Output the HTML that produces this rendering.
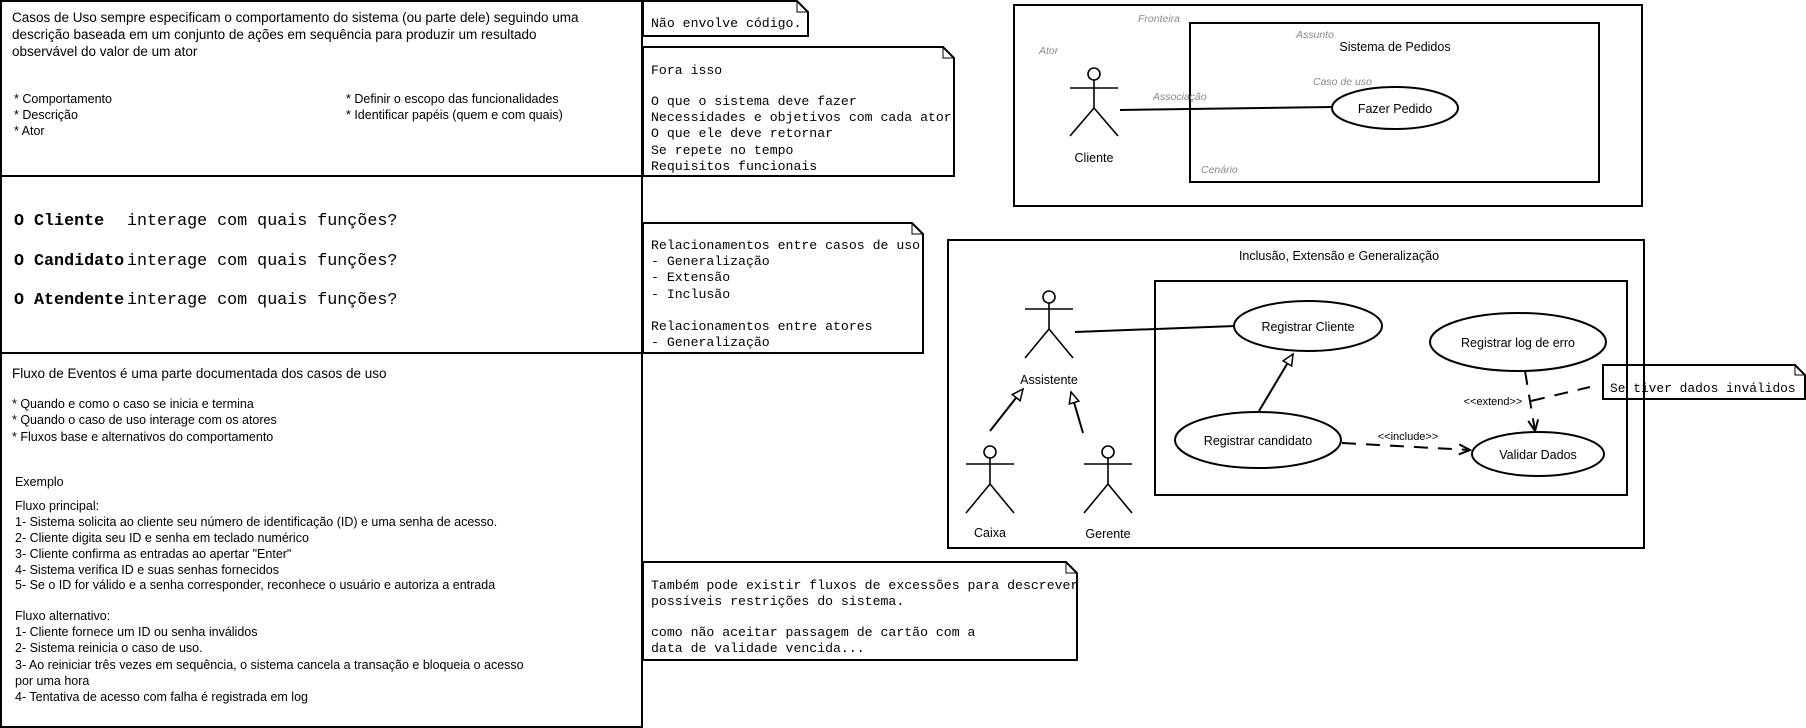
<!DOCTYPE html>
<html><head><meta charset="utf-8"><style>
html,body{margin:0;padding:0;background:#fff;}
svg{display:block;}
.s{font-family:"Liberation Sans",sans-serif;font-size:13.5px;fill:#000;}
.m{font-family:"Liberation Mono",monospace;font-size:13.2px;fill:#000;}
.b{font-family:"Liberation Mono",monospace;font-size:16.7px;fill:#000;}
.g{font-family:"Liberation Sans",sans-serif;font-size:10.5px;fill:#888;font-style:italic;}
</style></head><body>
<svg width="1806" height="728" viewBox="0 0 1806 728" xmlns="http://www.w3.org/2000/svg">
<defs>
<marker id="tri" markerWidth="14" markerHeight="14" refX="12" refY="6" orient="auto" markerUnits="userSpaceOnUse"><path d="M1,1 L12,6 L1,11 Z" fill="#fff" stroke="#000" stroke-width="1.5"/></marker>
<marker id="open" markerWidth="14" markerHeight="14" refX="12" refY="6" orient="auto" markerUnits="userSpaceOnUse"><path d="M1,1 L12,6 L1,11" fill="none" stroke="#000" stroke-width="2"/></marker>
</defs>
<g fill="none" stroke="#000" stroke-width="2">
<rect x="1" y="1" width="641" height="726"/>
<line x1="0" y1="176" x2="642" y2="176"/>
<line x1="0" y1="353" x2="642" y2="353"/>
<path d="M643,1 H797 L808,12 V36 H643 Z"/><path d="M797,1 V12 H808" stroke-width="1"/>
<path d="M643,47 H943 L954,58 V176 H643 Z"/><path d="M943,47 V58 H954" stroke-width="1"/>
<path d="M643,223 H912 L923,234 V353 H643 Z"/><path d="M912,223 V234 H923" stroke-width="1"/>
<path d="M643,562 H1066 L1077,573 V660 H643 Z"/><path d="M1066,562 V573 H1077" stroke-width="1"/>
<path d="M1603,365 H1795 L1805,375 V399 H1603 Z"/><path d="M1795,365 V375 H1805" stroke-width="1"/>
<rect x="1014" y="5" width="628" height="201"/>
<rect x="1190" y="23" width="409" height="159"/>
<ellipse cx="1395" cy="108" rx="63" ry="21"/>
<line x1="1120" y1="110" x2="1332" y2="107"/>
<rect x="948" y="240" width="696" height="308"/>
<rect x="1155" y="281" width="472" height="214"/>
<ellipse cx="1308" cy="326" rx="74" ry="25"/>
<ellipse cx="1518" cy="342" rx="88" ry="29"/>
<ellipse cx="1258" cy="440" rx="83" ry="28"/>
<ellipse cx="1538" cy="454" rx="66" ry="22"/>
<line x1="1075" y1="332" x2="1235" y2="326"/>
<line x1="1259" y1="411" x2="1293" y2="354" marker-end="url(#tri)"/>
<line x1="990" y1="431" x2="1023" y2="389" marker-end="url(#tri)"/>
<line x1="1083" y1="433" x2="1071" y2="392" marker-end="url(#tri)"/>
<line x1="1342" y1="443" x2="1470" y2="450" stroke-dasharray="14,10" marker-end="url(#open)"/>
<line x1="1525" y1="371" x2="1535" y2="431" stroke-dasharray="14,10" marker-end="url(#open)"/>
<line x1="1531" y1="401" x2="1590" y2="387" stroke-dasharray="14,10"/>
</g>
<g fill="none" stroke="#000" stroke-width="1.6">
<g transform="translate(1094,74)"><circle cx="0" cy="0" r="6"/><line x1="0" y1="6" x2="0" y2="34"/><line x1="-24" y1="14" x2="24" y2="14"/><line x1="0" y1="34" x2="-24" y2="62"/><line x1="0" y1="34" x2="24" y2="62"/></g>
<g transform="translate(1049,297)"><circle cx="0" cy="0" r="6"/><line x1="0" y1="6" x2="0" y2="32"/><line x1="-24" y1="12" x2="24" y2="12"/><line x1="0" y1="32" x2="-24" y2="61"/><line x1="0" y1="32" x2="24" y2="61"/></g>
<g transform="translate(990,452)"><circle cx="0" cy="0" r="6"/><line x1="0" y1="6" x2="0" y2="32"/><line x1="-24" y1="12" x2="24" y2="12"/><line x1="0" y1="32" x2="-24" y2="61"/><line x1="0" y1="32" x2="24" y2="61"/></g>
<g transform="translate(1108,452)"><circle cx="0" cy="0" r="6"/><line x1="0" y1="6" x2="0" y2="32"/><line x1="-24" y1="12" x2="24" y2="12"/><line x1="0" y1="32" x2="-24" y2="61"/><line x1="0" y1="32" x2="24" y2="61"/></g>
</g>
<text class="s" x="12" y="22">Casos de Uso sempre especificam o comportamento do sistema (ou parte dele) seguindo uma</text>
<text class="s" x="12" y="39">descrição baseada em um conjunto de ações em sequência para produzir um resultado</text>
<text class="s" x="12" y="56">observável do valor de um ator</text>
<g class="s" style="font-size:12.5px">
<text x="14" y="103">* Comportamento</text><text x="14" y="119">* Descrição</text><text x="14" y="135">* Ator</text>
<text x="346" y="103">* Definir o escopo das funcionalidades</text><text x="346" y="119">* Identificar papéis (quem e com quais)</text>
</g>
<text class="b" x="14" y="225"><tspan font-weight="bold">O Cliente</tspan></text><text class="b" x="127" y="225">interage com quais funções?</text>
<text class="b" x="14" y="265"><tspan font-weight="bold">O Candidato</tspan></text><text class="b" x="127" y="265">interage com quais funções?</text>
<text class="b" x="14" y="304"><tspan font-weight="bold">O Atendente</tspan></text><text class="b" x="127" y="304">interage com quais funções?</text>
<text class="s" x="12" y="378">Fluxo de Eventos é uma parte documentada dos casos de uso</text>
<g class="s" style="font-size:12.5px">
<text x="12" y="408">* Quando e como o caso se inicia e termina</text>
<text x="12" y="424">* Quando o caso de uso interage com os atores</text>
<text x="12" y="441">* Fluxos base e alternativos do comportamento</text>
<text x="15" y="486">Exemplo</text>
<text x="15" y="510">Fluxo principal:</text>
<text x="15" y="526">1- Sistema solicita ao cliente seu número de identificação (ID) e uma senha de acesso.</text>
<text x="15" y="542">2- Cliente digita seu ID e senha em teclado numérico</text>
<text x="15" y="558">3- Cliente confirma as entradas ao apertar "Enter"</text>
<text x="15" y="574">4- Sistema verifica ID e suas senhas fornecidos</text>
<text x="15" y="589">5- Se o ID for válido e a senha corresponder, reconhece o usuário e autoriza a entrada</text>
<text x="15" y="620">Fluxo alternativo:</text>
<text x="15" y="636">1- Cliente fornece um ID ou senha inválidos</text>
<text x="15" y="652">2- Sistema reinicia o caso de uso.</text>
<text x="15" y="669">3- Ao reiniciar três vezes em sequência, o sistema cancela a transação e bloqueia o acesso</text>
<text x="15" y="685">por uma hora</text>
<text x="15" y="701">4- Tentativa de acesso com falha é registrada em log</text>
</g>
<g class="m">
<text x="651" y="27">Não envolve código.</text>
<text x="651" y="74">Fora isso</text>
<text x="651" y="105">O que o sistema deve fazer</text>
<text x="651" y="121">Necessidades e objetivos com cada ator</text>
<text x="651" y="137">O que ele deve retornar</text>
<text x="651" y="154">Se repete no tempo</text>
<text x="651" y="170">Requisitos funcionais</text>
<text x="651" y="249">Relacionamentos entre casos de uso</text>
<text x="651" y="265">- Generalização</text>
<text x="651" y="281">- Extensão</text>
<text x="651" y="298">- Inclusão</text>
<text x="651" y="330">Relacionamentos entre atores</text>
<text x="651" y="346">- Generalização</text>
<text x="651" y="589">Também pode existir fluxos de excessões para descrever</text>
<text x="651" y="605">possíveis restrições do sistema.</text>
<text x="651" y="636">como não aceitar passagem de cartão com a</text>
<text x="651" y="652">data de validade vencida...</text>
<text x="1610" y="392" style="font-size:12.9px">Se tiver dados inválidos</text>
</g>
<g class="g">
<text x="1138" y="22">Fronteira</text><text x="1296" y="38">Assunto</text><text x="1039" y="54">Ator</text>
<text x="1313" y="85">Caso de uso</text><text x="1153" y="100">Associação</text><text x="1201" y="173">Cenário</text>
</g>
<g class="s" style="font-size:12.5px" text-anchor="middle">
<text x="1395" y="51">Sistema de Pedidos</text>
<text x="1395" y="113">Fazer Pedido</text>
<text x="1094" y="162">Cliente</text>
<text x="1339" y="260">Inclusão, Extensão e Generalização</text>
<text x="1308" y="331">Registrar Cliente</text>
<text x="1518" y="347">Registrar log de erro</text>
<text x="1258" y="445">Registrar candidato</text>
<text x="1538" y="459">Validar Dados</text>
<text x="1049" y="384">Assistente</text>
<text x="990" y="537">Caixa</text>
<text x="1108" y="538">Gerente</text>
</g>
<g class="s" style="font-size:11px" text-anchor="middle">
<text x="1408" y="440">&lt;&lt;include&gt;&gt;</text>
<text x="1493" y="405">&lt;&lt;extend&gt;&gt;</text>
</g>
</svg>
</body></html>
